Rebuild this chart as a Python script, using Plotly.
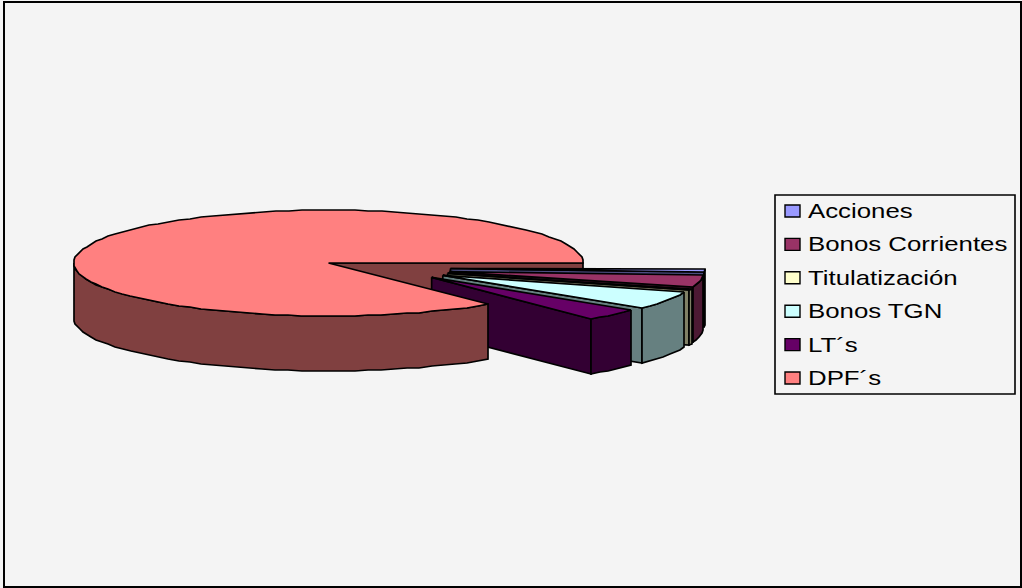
import numpy as np
import plotly.graph_objects as go

# ---- data (share of the pie, percent), in drawing order starting at 3 o'clock, clockwise
categories = ["Acciones", "Bonos Corrientes", "Titulatización", "Bonos TGN", "LT´s", "DPF´s"]
values = [1.1, 3.5, 0.5, 5.6, 3.5, 85.8]
top_colors = ["#9999ff", "#993366", "#ffffcc", "#ccffff", "#660066", "#ff8080"]
side_colors = ["#4c4c80", "#4c1933", "#808066", "#668080", "#330033", "#804040"]

# ---- projection settings (pixels)
CX, CY = 328.5, 263
RX, RY = 254.5, 53
DEPTH = 55
STEP = 3      # the reference's ellipse is a slightly faceted polygon
GRID = 1      # ... snapped to whole pixels
BG = "#f4f4f4"
LINE = dict(color="black", width=1.7)
TEXT_STRETCH = 1.29

fig = go.Figure()


def arc(t0, t1, ox=0, oy=0):
    """Points on the rim between angles t0 and t1 (degrees, clockwise positive)."""
    n = max(2, int(abs(t1 - t0) / STEP) + 2)
    t = np.radians(np.linspace(t0, t1, n))
    x = CX + ox + RX * np.cos(t)
    y = CY + oy + RY * np.sin(t)
    return np.round(x / GRID) * GRID, np.round(y / GRID) * GRID


def poly(x, y, color):
    fig.add_trace(go.Scatter(x=list(x) + [x[0]], y=list(y) + [y[0]], mode="lines", fill="toself",
                             fillcolor=color, line=LINE, hoverinfo="skip", showlegend=False))


def explode_offset(tm):
    r = np.radians(tm)
    return 122 * np.cos(r * 0.72), 3 + 13.5 * np.sqrt(np.sin(r))


# angles from values
ends = np.cumsum(values) / sum(values) * 360
starts = np.concatenate([[0], ends[:-1]])

# cut wall of the main slice, seen through the gap (drawn first, behind everything)
main = len(values) - 1
poly([CX, CX + RX, CX + RX, CX], [CY, CY, CY + DEPTH, CY + DEPTH], side_colors[main])

# exploded slices, back to front
for i in range(main):
    t0, t1 = starts[i], ends[i]
    ox, oy = explode_offset((t0 + t1) / 2)
    ax, ay = CX + ox, CY + oy
    xs, ys = arc(t0, t1, ox, oy)
    # wall on the cut nearest the viewer
    poly([ax, xs[-1], xs[-1], ax], [ay, ys[-1], ys[-1] + DEPTH, ay + DEPTH], side_colors[i])
    # outer rim wall
    poly(np.r_[xs, xs[::-1]], np.r_[ys, ys[::-1] + DEPTH], side_colors[i])
    # top face
    poly(np.r_[ax, xs], np.r_[ay, ys], top_colors[i])

# main slice: outer wall on the visible (front) part of the rim, then the top face
t0, t1 = starts[main], ends[main]
xs, ys = arc(t0, t1)
xf, yf = arc(180, t0)
poly(np.r_[xf, xf[::-1]], np.r_[yf, yf[::-1] + DEPTH], side_colors[main])
poly(np.r_[CX, xs], np.r_[CY, ys], top_colors[main])

# outer frame and legend
shapes = [dict(type="rect", xref="x", yref="y", x0=4, y0=2, x1=1021, y1=587,
               line=dict(color="black", width=2), layer="above"),
          dict(type="rect", xref="x", yref="y", x0=775, y0=195, x1=1015, y1=394,
               line=dict(color="black", width=1.6), fillcolor=BG, layer="above")]
annotations = []
LEG_Y0, LEG_DY = 211, 33.4
for i, name in enumerate(categories):
    y = LEG_Y0 + i * LEG_DY
    shapes.append(dict(type="rect", xref="x", yref="y", x0=785, x1=800, y0=y - 6, y1=y + 6,
                       fillcolor=top_colors[i], line=dict(color="black", width=1.4), layer="above"))
    annotations.append(dict(x=806, y=y, xref="x", yref="y", text=name, showarrow=False, xanchor="left",
                            yanchor="middle", font=dict(family="Liberation Sans", size=20, color="black")))

fig.update_layout(width=1022, height=588, margin=dict(l=0, r=0, t=0, b=0), paper_bgcolor=BG, plot_bgcolor=BG,
                  showlegend=False, shapes=shapes, annotations=annotations,
                  xaxis=dict(range=[0, 1022], visible=False, fixedrange=True),
                  yaxis=dict(range=[588, 0], visible=False, fixedrange=True))

# The reference's legend text is the same height but horizontally stretched.
post = """
document.body.style.margin='0';document.body.style.overflow='hidden';
document.querySelectorAll('.annotation-text').forEach(function(t){
  var b=t.getBBox();
  t.setAttribute('transform','translate('+b.x+',0) scale(%s,1) translate('+(-b.x)+',0)');
});
""" % TEXT_STRETCH
fig.write_html("out.html", config=dict(displayModeBar=False), post_script=post)
